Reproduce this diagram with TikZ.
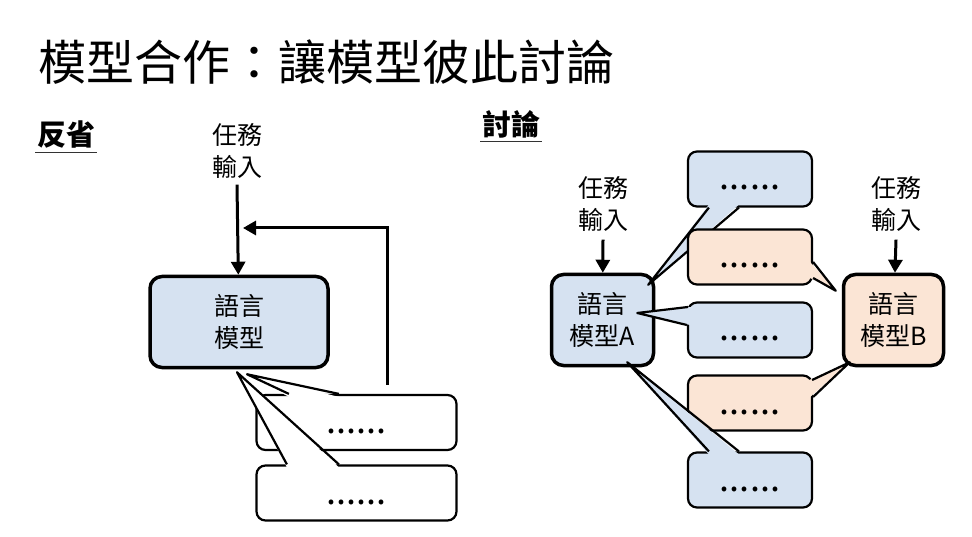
\documentclass[tikz,border=0pt]{standalone}
\usepackage{fontspec}
\newfontfamily\cjk{Noto Sans CJK TC}
\usepackage{tikz}
\usetikzlibrary{
    arrows.meta,
    calc
}
\definecolor{talkblue}{RGB}{214,226,241}
\definecolor{talkorange}{RGB}{251,229,213}

\begin{document}
\begin{tikzpicture}[
            x=1pt, y=-1pt,
            font=\cjk,
            model/.style={draw, line width=3.5pt, rounded corners=12pt, fill=talkblue, align=center, minimum height=91pt, font=\cjk\fontsize{25}{32}\selectfont},
            bubble/.style={draw, line width=2.2pt, rounded corners=9pt, fill=white, minimum width=124pt, minimum height=55pt, inner sep=0pt, text height=22pt, text depth=0pt, font=\cjk\fontsize{36}{40}\selectfont},
            taskin/.style={align=center, inner sep=3pt, font=\cjk\fontsize{25}{32}\selectfont},
            heading/.style={inner xsep=1.5pt, inner ysep=3.5pt, font=\cjk\bfseries\fontsize{29}{34}\selectfont},
            uline/.style={line width=1.6pt, black!80},
            arr/.style={-{Triangle[length=13pt, width=14pt]}, line width=3pt},
            tail/.style={line width=2.2pt, line join=round}
        ]
            \useasboundingbox (0,0) rectangle (972,537);

            % ====== Title ======
            \node[anchor=west, inner sep=0pt, font=\cjk\fontsize{48}{56}\selectfont] (title) at (38, 62) {模型合作：讓模型彼此討論};

            % ====== Left: 反省 ======
            \node[heading] (hreflect) at (66, 135) {反省};
            \draw[uline] (hreflect.south west) -- (hreflect.south east);

            \node[taskin] (taskL) at (237, 151) {任務\\輸入};
            \node[model, minimum width=178pt] (modelL) at (239, 322) {語言\\模型};
            \draw[arr] ([yshift=-3pt]taskL.south) -- (modelL);

            \node[bubble, minimum width=200pt] (out1) at (356.5, 422.5) {......};
            \coordinate (tipL1) at ($(modelL.south)+(8, 5)$);
            \fill[white] (tipL1) -- ($(out1.north west)+(33.5, 3)$) -- ($(out1.north west)+(83.5, 3)$) -- cycle;
            \draw[tail] ($(out1.north west)+(33.5, 0)$) -- (tipL1) -- ($(out1.north west)+(83.5, 0)$);

            \node[bubble, minimum width=200pt] (out2) at (356.5, 493) {......};
            \coordinate (tipL2) at ($(modelL.south)+(-2, 3)$);
            \fill[white] (tipL2) -- ($(out2.north west)+(31.5, 3)$) -- ($(out2.north west)+(83.5, 3)$) -- cycle;
            \draw[tail] ($(out2.north west)+(31.5, 0)$) -- (tipL2) -- ($(out2.north west)+(83.5, 0)$);

            \coordinate (fbend) at (243, 228);
            \draw[arr] ($(out1.north)+(30.5, -9)$) |- (fbend);

            % ====== Right: 討論 ======
            \node[heading] (hdiscuss) at (511, 124) {討論};
            \draw[uline] (hdiscuss.south west) -- (hdiscuss.south east);

            \node[taskin] (taskA) at (603, 204) {任務\\輸入};
            \node[taskin] (taskB) at (896, 204) {任務\\輸入};
            \node[model, minimum width=102pt] (modelA) at (602.5, 320) {語言\\模型A};
            \node[model, minimum width=100pt, fill=talkorange] (modelB) at (893.5, 320) {語言\\模型B};
            \draw[arr] ([yshift=-5pt]taskA.south) -- (modelA);
            \draw[arr] ([yshift=-5pt]taskB.south) -- (modelB);

            % A speaks
            \node[bubble, fill=talkblue] (b1) at (750, 179) {......};
            \coordinate (tipb1) at ($(modelA.north east)+(-7, 12)$);
            \fill[talkblue] (tipb1) -- ($(b1.south west)+(22, -3)$) -- ($(b1.south west)+(52, -3)$) -- cycle;
            \draw[tail] ($(b1.south west)+(22, 0)$) -- (tipb1) -- ($(b1.south west)+(52, 0)$);

            % B answers
            \node[bubble, fill=talkorange] (o1) at (750, 257) {......};
            \coordinate (tipo1) at ($(modelB.north west)+(-6, 18)$);
            \fill[talkorange] (tipo1) -- ($(o1.east)+(-3, 5)$) -- ($(o1.east)+(-3, 21)$) -- cycle;
            \draw[tail] ($(o1.east)+(0, 5)$) -- (tipo1) -- ($(o1.east)+(0, 21)$);

            \node[bubble, fill=talkblue] (b2) at (750, 330) {......};
            \coordinate (tipb2) at ($(modelA.east)+(-18, -7)$);
            \fill[talkblue] (tipb2) -- ($(b2.west)+(4, -23)$) -- ($(b2.west)+(3, -5)$) -- cycle;
            \draw[tail] ($(b2.west)+(1, -23)$) -- (tipb2) -- ($(b2.west)+(0, -5)$);

            \node[bubble, fill=talkorange] (o2) at (750, 403) {......};
            \coordinate (tipo2) at ($(modelB.south west)+(8, -5)$);
            \fill[talkorange] (tipo2) -- ($(o2.east)+(-4, -23)$) -- ($(o2.east)+(-3, -6)$) -- cycle;
            \draw[tail] ($(o2.east)+(-1, -23)$) -- (tipo2) -- ($(o2.east)+(0, -6)$);

            \node[bubble, fill=talkblue] (b3) at (750, 480) {......};
            \coordinate (tipb3) at ($(modelA.south east)+(-28, -5)$);
            \fill[talkblue] (tipb3) -- ($(b3.north west)+(22, 3)$) -- ($(b3.north west)+(52, 3)$) -- cycle;
            \draw[tail] ($(b3.north west)+(22, 0)$) -- (tipb3) -- ($(b3.north west)+(52, 0)$);
        \end{tikzpicture}
\end{document}
